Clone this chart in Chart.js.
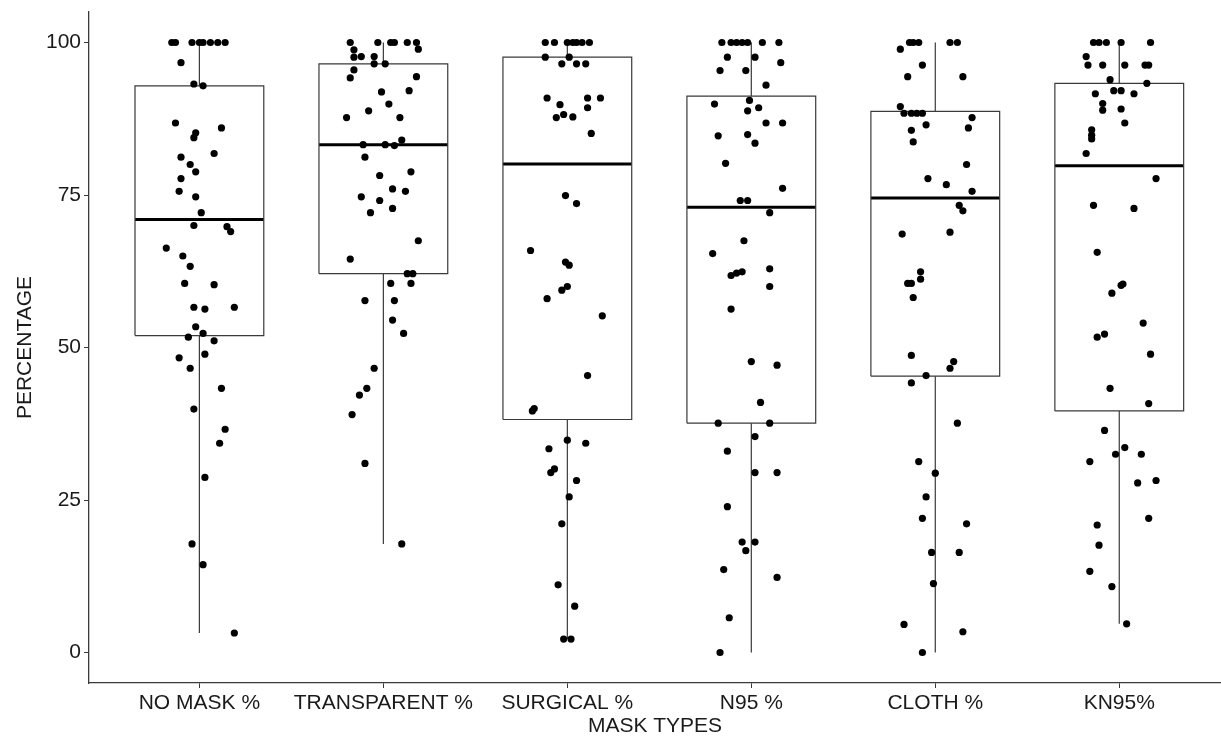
<!DOCTYPE html>
<html>
<head>
<meta charset="utf-8">
<title>Mask types</title>
<script src="https://cdn.jsdelivr.net/npm/chart.js"></script>
<style>
  body { margin: 0; background: #fff; }
  canvas { display: block; }
</style>
</head>
<body>
<canvas id="grafica" width="1221" height="736"></canvas>
<script>
// categorias y ticks
const categories = ["NO MASK %", "TRANSPARENT %", "SURGICAL %", "N95 %", "CLOTH %", "KN95%"];
const yTicks = [0, 25, 50, 75, 100];

// estadisticas de las cajas
const q1 = [51.95, 62.1, 38.2, 37.6, 45.3, 39.6];
const medians = [71.0, 83.25, 80.1, 73.0, 74.5, 79.8];
const q3 = [92.9, 96.5, 97.6, 91.2, 88.7, 93.3];
const whiskerLow = [3.2, 17.8, 2.2, 0, 0, 4.7];
const whiskerHigh = [100, 100, 100, 100, 100, 100];

// puntos (valor) y su jitter horizontal en unidades de categoria
const noMaskValues = [100,100,100,100,100,100,100,100,96.7,93.2,92.9,86.8,85.2,84.4,86.0,81.8,81.2,80.0,78.8,77.7,75.6,74.7,72.1,70.0,69.8,69.0,66.3,65.0,63.3,60.5,60.3,56.6,56.3,56.6,53.4,51.7,52.3,51.1,48.3,48.9,46.6,43.3,39.9,36.6,34.3,28.7,17.8,14.4,3.2];
const noMaskJitter = [-0.15,-0.13,-0.04,0,0.02,0.06,0.10,0.14,-0.10,-0.03,0.02,-0.13,-0.02,-0.03,0.12,0.08,-0.10,-0.05,-0.02,-0.10,-0.11,-0.02,0.01,-0.03,0.15,0.17,-0.18,-0.09,-0.05,-0.08,0.08,-0.03,0.03,0.19,-0.02,-0.06,0.02,0.08,-0.11,0.03,-0.05,0.12,-0.03,0.14,0.11,0.03,-0.04,0.02,0.19];

const transparentValues = [100,100,100,100,100,100,98.9,98.8,97.6,97.7,97.7,96.5,96.5,95.5,94.2,94.4,91.9,92.1,89.9,88.8,87.7,87.7,83.25,83.25,83.1,84.0,81.2,78.2,78.8,76.0,75.6,74.7,74.1,72.8,72.1,67.5,64.5,62.1,62.1,60.5,60.5,57.7,57.7,54.5,52.3,46.6,43.3,42.2,39.0,31.0,17.8];
const transparentJitter = [-0.18,-0.03,0.04,0.06,0.13,0.18,0.19,-0.16,-0.16,-0.12,-0.05,-0.05,0.01,-0.16,-0.18,0.18,-0.01,0.14,0.03,-0.08,-0.20,0.09,-0.11,0.01,0.06,0.10,-0.10,-0.02,0.15,0.05,0.12,-0.12,-0.02,0.05,-0.07,0.19,-0.18,0.13,0.16,0.15,0.04,-0.10,0.06,0.05,0.11,-0.05,-0.09,-0.13,-0.17,-0.10,0.10];

const surgicalValues = [100,100,100,100,100,100,100,97.6,97.6,96.5,96.5,96.5,90.9,89.8,90.9,90.9,89.3,87.7,88.2,87.8,85.1,74.9,73.6,65.9,64.0,63.5,59.4,60.0,58.0,55.2,45.4,39.6,40.0,34.8,34.3,33.4,29.5,30.1,28.2,25.5,21.1,11.1,7.6,2.2,2.2];
const surgicalJitter = [-0.12,-0.07,0,0.03,0.05,0.08,0.12,-0.12,0.01,-0.03,0.05,0.10,-0.11,-0.04,0.11,0.18,0.11,-0.06,-0.02,0.03,0.13,-0.01,0.05,-0.20,-0.01,0.01,-0.03,0,-0.11,0.19,0.11,-0.19,-0.18,0,0.10,-0.10,-0.09,-0.07,0.05,0.01,-0.03,-0.05,0.04,-0.02,0.02];

const n95Values = [100,100,100,100,100,100,100,97.6,97.6,96.7,95.4,95.4,93.0,90.5,89.9,88.8,89.3,86.8,86.8,84.7,84.9,83.5,80.2,76.1,74.1,74.1,72.1,67.5,65.4,61.8,62.2,62.4,62.9,60.0,56.3,47.7,47.1,41.0,37.6,37.6,35.4,33.0,29.5,29.5,23.9,18.1,18.1,16.7,13.6,12.3,5.7,0];
const n95Jitter = [-0.16,-0.11,-0.08,-0.05,-0.02,0.06,0.15,-0.13,0.02,0.16,-0.17,-0.03,0.08,-0.01,-0.20,-0.02,0.04,0.08,0.17,-0.18,-0.02,0.02,-0.14,0.17,-0.06,-0.02,0.10,-0.04,-0.21,-0.11,-0.08,-0.05,0.10,0.10,-0.11,0,0.14,0.05,-0.18,0.10,0.02,-0.13,0.02,0.14,-0.13,-0.05,0.02,-0.03,-0.15,0.14,-0.12,-0.17];

const clothValues = [100,100,100,100,100,98.9,96.3,94.4,94.4,89.5,88.4,88.4,88.4,88.4,87.7,86.5,86.0,85.6,83.7,80.0,77.7,76.7,75.6,73.3,72.4,68.6,68.9,62.4,61.2,60.5,60.5,58.2,48.7,47.7,46.6,45.4,44.2,37.6,31.3,29.4,25.5,22.0,21.1,16.4,16.4,11.3,4.6,3.4,0];
const clothJitter = [-0.14,-0.12,-0.09,0.08,0.12,-0.19,-0.07,-0.15,0.15,-0.19,-0.17,-0.13,-0.10,-0.07,0.20,-0.05,0.18,-0.13,-0.12,0.17,-0.04,0.06,0.20,0.13,0.15,-0.18,0.08,-0.08,-0.08,-0.15,-0.13,-0.12,-0.13,0.10,0.08,-0.05,-0.13,0.12,-0.09,0,-0.05,-0.07,0.17,-0.02,0.13,-0.01,-0.17,0.15,-0.07];

const kn95Values = [100,100,100,100,100,97.7,96.3,96.3,96.3,96.3,96.3,93.9,93.3,91.6,92.1,92.1,91.6,90.0,88.9,89.1,86.8,85.7,84.8,84.2,81.8,77.7,73.3,72.8,65.6,60.2,60.4,58.9,54.0,51.7,52.2,48.9,43.3,40.8,36.4,33.6,32.5,32.5,31.3,27.8,28.2,22.0,20.9,17.6,13.3,10.8,4.7];
const kn95Jitter = [-0.14,-0.11,-0.07,0.01,0.17,-0.18,-0.17,-0.09,0.03,0.14,0.16,-0.05,0.15,-0.13,-0.03,0.01,0.08,-0.09,-0.09,0.01,0.03,-0.15,-0.15,-0.15,-0.18,0.20,-0.14,0.08,-0.12,0.01,0.02,-0.04,0.13,-0.12,-0.08,0.17,-0.05,0.16,-0.08,0.03,-0.02,0.12,-0.16,0.10,0.20,0.16,-0.12,-0.11,-0.16,-0.04,0.04];

const pointValues = [noMaskValues, transparentValues, surgicalValues, n95Values, clothValues, kn95Values];
const pointJitter = [noMaskJitter, transparentJitter, surgicalJitter, n95Jitter, clothJitter, kn95Jitter];

const fuente = { family: '"Liberation Sans", Arial, sans-serif', size: 21 };
const colorLinea = "#3a3a3a";
const colorTexto = "#1a1a1a";
const mitadCaja = 0.35;

const datasets = [];

// puntos con jitter (encima de las cajas)
pointValues.forEach((vals, i) => {
  datasets.push({
    type: "scatter",
    data: vals.map((v, k) => ({ x: i + 1 + pointJitter[i][k], y: v })),
    backgroundColor: "#000",
    borderWidth: 0,
    pointRadius: 3.6,
    order: 0
  });
});

function linea(puntos, ancho, color) {
  return {
    type: "line",
    data: puntos,
    borderColor: color,
    borderWidth: ancho,
    borderJoinStyle: "miter",
    pointRadius: 0,
    fill: false,
    tension: 0,
    order: 1
  };
}

// cajas, medianas y bigotes
categories.forEach((c, i) => {
  const x = i + 1;
  datasets.push(linea([
    { x: x - mitadCaja, y: q1[i] },
    { x: x - mitadCaja, y: q3[i] },
    { x: x + mitadCaja, y: q3[i] },
    { x: x + mitadCaja, y: q1[i] },
    { x: x - mitadCaja, y: q1[i] }
  ], 1.2, colorLinea));
  datasets.push(linea([{ x: x - mitadCaja, y: medians[i] }, { x: x + mitadCaja, y: medians[i] }], 3, "#000"));
  datasets.push(linea([{ x: x, y: q3[i] }, { x: x, y: whiskerHigh[i] }], 1.2, colorLinea));
  datasets.push(linea([{ x: x, y: q1[i] }, { x: x, y: whiskerLow[i] }], 1.2, colorLinea));
});

new Chart(document.getElementById("grafica"), {
  type: "scatter",
  data: { datasets },
  options: {
    responsive: false,
    devicePixelRatio: 1,
    animation: false,
    layout: { autoPadding: false, padding: { top: 12, right: 0, bottom: 0, left: 0 } },
    plugins: { legend: { display: false }, tooltip: { enabled: false } },
    scales: {
      x: {
        type: "linear",
        min: 0.4,
        max: 6.553,
        afterBuildTicks: s => { s.ticks = categories.map((c, i) => ({ value: i + 1 })); },
        afterFit: s => { s.height = 53; },
        ticks: { callback: v => categories[v - 1], color: colorTexto, font: fuente, padding: 3, maxRotation: 0, autoSkip: false },
        grid: { drawOnChartArea: false, tickLength: 5, color: colorLinea },
        border: { color: colorLinea, width: 1.3 },
        title: { display: true, text: "MASK TYPES", color: colorTexto, font: fuente, padding: { top: 0, bottom: -3 } }
      },
      y: {
        type: "linear",
        min: -5,
        max: 105,
        afterBuildTicks: s => { s.ticks = yTicks.map(v => ({ value: v })); },
        afterFit: s => { s.width = 89; },
        ticks: { color: colorTexto, font: { ...fuente, lineHeight: 0.8 }, padding: 3 },
        grid: { drawOnChartArea: false, tickLength: 5, color: colorLinea },
        border: { color: colorLinea, width: 1.3 },
        title: { display: true, text: "PERCENTAGE", color: colorTexto, font: fuente, padding: { top: 13, bottom: 0 } }
      }
    }
  }
});
</script>
</body>
</html>
